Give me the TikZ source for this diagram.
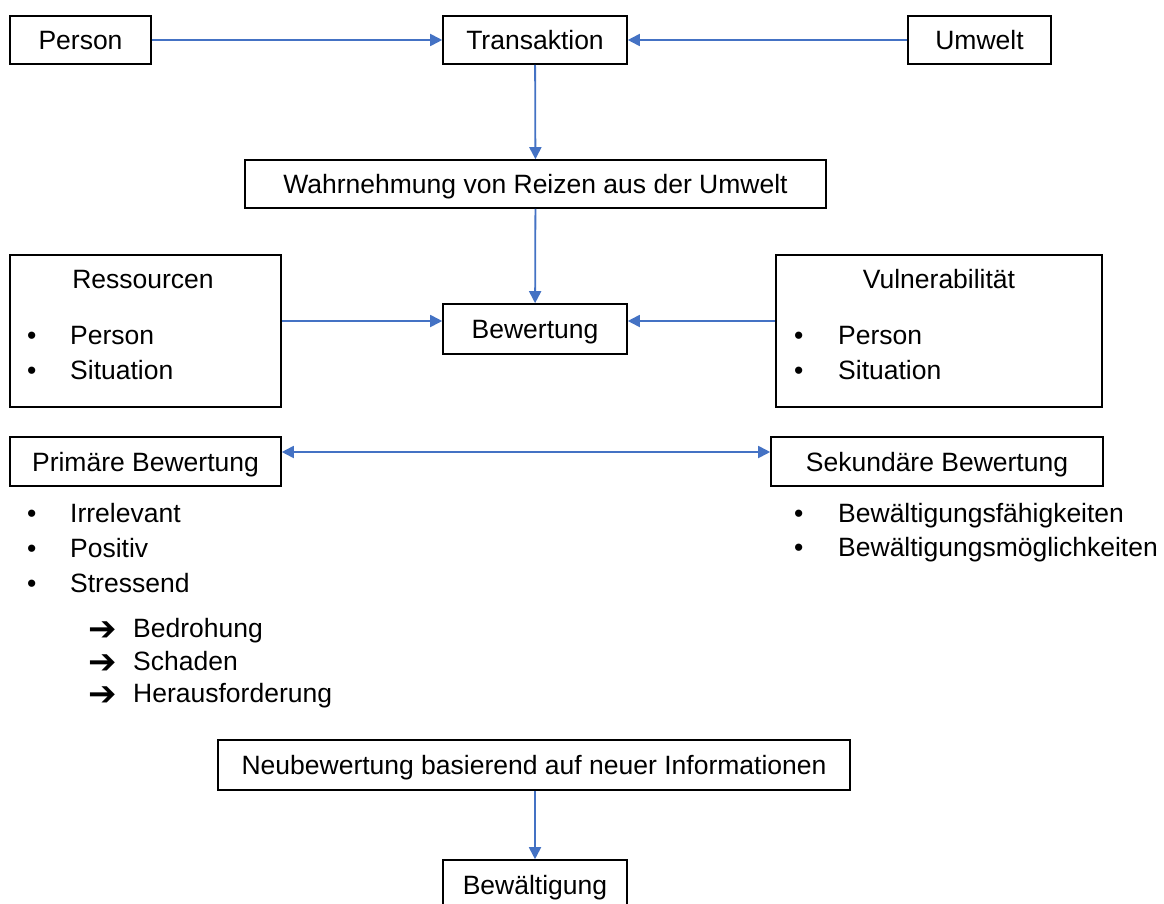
\documentclass[tikz,border=0pt]{standalone}
\usepackage{fontspec}
\setmainfont{Liberation Sans}
\newfontfamily\symfont{DejaVu Sans}
\usetikzlibrary{arrows.meta}
\definecolor{conblue}{HTML}{4472C4}
\begin{document}
\begin{tikzpicture}[x=1pt,y=-1pt,
  box/.style={draw=black,line width=1.6pt,inner sep=0pt,font=\fontsize{26.5}{30}\selectfont,text height=19pt,text depth=0pt},
  txt/.style={inner sep=0pt,font=\fontsize{26.5}{30}\selectfont,anchor=base west},
  sym/.style={inner sep=0pt,font=\symfont\bfseries\fontsize{34}{36}\selectfont,anchor=west},
  con/.style={draw=conblue,line width=1.8pt,-{Triangle[length=12pt,width=12pt]}},
  bicon/.style={draw=conblue,line width=1.8pt,{Triangle[length=12pt,width=12pt]}-{Triangle[length=12pt,width=12pt]}}]
\useasboundingbox[fill=white] (0,0) rectangle (1164,904);
% top row
\node[box,minimum width=141pt,minimum height=48pt] (person) at (80.5,40) {Person};
\node[box,minimum width=184pt,minimum height=48pt] (trans) at (535,40) {Transaktion};
\node[box,minimum width=143pt,minimum height=48pt] (umwelt) at (979.5,40) {Umwelt};
\node[box,minimum width=581pt,minimum height=48pt] (wahr) at (535.5,184) {Wahrnehmung von Reizen aus der Umwelt};
% resources / vulnerability
\node[box,minimum width=271pt,minimum height=152pt] (ress) at (145.5,331) {};
\node[box,minimum width=184pt,minimum height=50pt] (bew) at (535,329) {Bewertung};
\node[box,minimum width=326pt,minimum height=152pt] (vuln) at (939,331) {};
\node[txt,anchor=base] (ressT) at (143,288) {Ressourcen};
\node[txt] (rb1) at (27,344) {•};
\node[txt] (r1) at (70,344) {Person};
\node[txt] (rb2) at (27,379) {•};
\node[txt] (r2) at (70,379) {Situation};
\node[txt,anchor=base] (vulnT) at (939,288) {Vulnerabilität};
\node[txt] (vb1) at (794,344) {•};
\node[txt] (v1) at (838,344) {Person};
\node[txt] (vb2) at (794,379) {•};
\node[txt] (v2) at (838,379) {Situation};
% primary / secondary
\node[box,minimum width=271pt,minimum height=49pt] (prim) at (145.5,461.5) {Primäre Bewertung};
\node[box,minimum width=332pt,minimum height=49pt] (sek) at (937,461.5) {Sekundäre Bewertung};
\node[txt] (pb1) at (27,522) {•};
\node[txt] (p1) at (70,522) {Irrelevant};
\node[txt] (pb2) at (27,557) {•};
\node[txt] (p2) at (70,557) {Positiv};
\node[txt] (pb3) at (27,592) {•};
\node[txt] (p3) at (70,592) {Stressend};
\node[sym] (a1) at (88,631) {➔};
\node[txt] (q1) at (133,637) {Bedrohung};
\node[sym] (a2) at (88,664) {➔};
\node[txt] (q2) at (133,670) {Schaden};
\node[sym] (a3) at (88,696) {➔};
\node[txt] (q3) at (133,702) {Herausforderung};
\node[txt] (sb1) at (794,522) {•};
\node[txt] (s1) at (838,522) {Bewältigungsfähigkeiten};
\node[txt] (sb2) at (794,556) {•};
\node[txt] (s2) at (838,556) {Bewältigungsmöglichkeiten};
% bottom
\node[box,minimum width=632pt,minimum height=50pt] (neu) at (534,765) {Neubewertung basierend auf neuer Informationen};
\node[box,minimum width=184pt,minimum height=50pt] (bewae) at (535,885) {Bewältigung};
% connectors
\draw[con] (person) -- (trans);
\draw[con] (umwelt) -- (trans);
\draw[con] (trans) -- (wahr);
\draw[con] (wahr) -- (bew);
\draw[con] (ress.east |- 0,321) -- (bew.west |- 0,321);
\draw[con] (vuln.west |- 0,321) -- (bew.east |- 0,321);
\draw[bicon] (prim.east |- 0,452) -- (sek.west |- 0,452);
\draw[con] (neu.south -| bewae) -- (bewae);
\end{tikzpicture}
\end{document}
